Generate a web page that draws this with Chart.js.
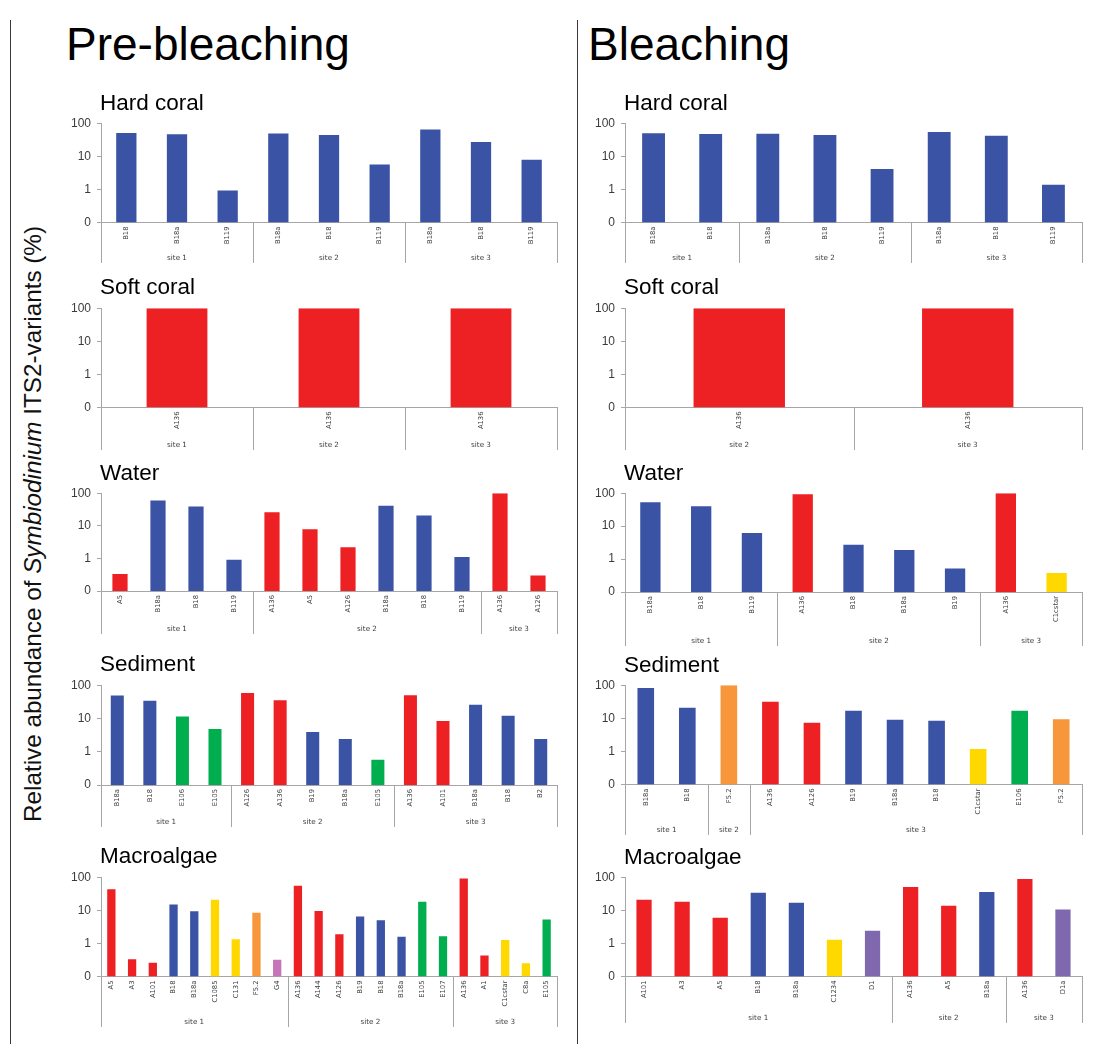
<!DOCTYPE html>
<html>
<head>
<meta charset="utf-8">
<script src="https://cdn.jsdelivr.net/npm/chart.js@4.4.1/dist/chart.umd.min.js"></script>
<style>
  html, body { margin: 0; padding: 0; background: #fff; }
  #page { position: relative; width: 1095px; height: 1044px; overflow: hidden; font-family: "Liberation Sans", Arial, sans-serif; }
  .panel { position: absolute; }
  .panel canvas { display: block; }
  .label { position: absolute; white-space: nowrap; color: #000; line-height: 1; }
  .rule { position: absolute; background: #3a3a3a; }
</style>
</head>
<body>
<div id="page"></div>
<script>
// ---- Axis ticks (log scale; the lowest tick 0.1 is printed as "0") ----
const Y_MIN = 0.1;
const Y_MAX = 100;
const yTickValues = [0.1, 1, 10, 100];
const yTickLabels = ['0', '1', '10', '100'];

const threeSites = ['site 1', 'site 2', 'site 3'];

// ---- Pre-bleaching ----
const preHardTypes = ['B18', 'B18a', 'B119', 'B18a', 'B18', 'B119', 'B18a', 'B18', 'B119'];
const preHardValues = [51, 46, 0.93, 49, 44, 5.7, 64, 27, 7.9];
const preHardSiteSizes = [3, 3, 3];

const preSoftTypes = ['A136', 'A136', 'A136'];
const preSoftValues = [100, 100, 100];
const preSoftSiteSizes = [1, 1, 1];

const preWaterTypes = ['A5', 'B18a', 'B18', 'B119', 'A136', 'A5', 'A126', 'B18a', 'B18', 'B119', 'A136', 'A126'];
const preWaterValues = [0.33, 60, 39, 0.91, 26, 7.8, 2.2, 41, 20.6, 1.1, 100, 0.30];
const preWaterSiteSizes = [4, 6, 2];

const preSedimentTypes = ['B18a', 'B18', 'E106', 'E105', 'A126', 'A136', 'B19', 'B18a', 'E105', 'A136', 'A101', 'B18a', 'B18', 'B2'];
const preSedimentValues = [49, 34, 11.5, 4.8, 58, 35, 3.9, 2.4, 0.57, 50, 8.4, 26, 12, 2.4];
const preSedimentSiteSizes = [4, 5, 5];

const preMacroTypes = ['A5', 'A3', 'A101', 'B18', 'B18a', 'C1085', 'C131', 'F5.2', 'G4',
  'A136', 'A144', 'A126', 'B19', 'B18', 'B18a', 'E105', 'E107',
  'A136', 'A1', 'C1cstar', 'C8a', 'E105'];
const preMacroValues = [43, 0.33, 0.26, 15, 9.3, 21, 1.34, 8.5, 0.32,
  55, 9.5, 1.9, 6.5, 5.0, 1.6, 18, 1.65,
  91, 0.43, 1.26, 0.25, 5.3];
const preMacroSiteSizes = [9, 8, 5];

// ---- Bleaching ----
const bleHardTypes = ['B18a', 'B18', 'B18a', 'B18', 'B119', 'B18a', 'B18', 'B119'];
const bleHardValues = [50, 47, 48, 44, 4.1, 54, 42, 1.37];
const bleHardSiteSizes = [2, 3, 3];

const bleSoftTypes = ['A136', 'A136'];
const bleSoftValues = [100, 100];
const bleSoftSites = ['site 2', 'site 3'];
const bleSoftSiteSizes = [1, 1];

const bleWaterTypes = ['B18a', 'B18', 'B119', 'A136', 'B18', 'B18a', 'B19', 'A136', 'C1cstar'];
const bleWaterValues = [53, 40, 6.2, 93, 2.7, 1.9, 0.52, 100, 0.38];
const bleWaterSiteSizes = [3, 4, 2];

const bleSedimentTypes = ['B18a', 'B18', 'F5.2', 'A136', 'A126', 'B19', 'B18a', 'B18', 'C1cstar', 'E106', 'F5.2'];
const bleSedimentValues = [82, 21, 100, 31.5, 7.3, 17, 9.1, 8.5, 1.18, 17, 9.3];
const bleSedimentSiteSizes = [2, 1, 8];

const bleMacroTypes = ['A101', 'A3', 'A5', 'B18', 'B18a', 'C1234', 'D1', 'A136', 'A5', 'B18a', 'A136', 'D1a'];
const bleMacroValues = [21, 18, 6.0, 34, 17, 1.3, 2.4, 51, 13.8, 35.5, 89, 10.5];
const bleMacroSiteSizes = [7, 3, 2];

// ---- Styling ----
// Bar colour follows the Symbiodinium clade (first letter of the ITS2 type).
const cladeColours = {
  A: '#ED2024', B: '#3A53A4', C: '#FFD800', D: '#7F68AE',
  E: '#00AE4F', F: '#F7963A', G: '#C676B8'
};
const AXIS_GREY = '#a6a6a6';
const TEXT_GREY = '#3c3c3c';

const columns = {
  pre: { axis: 101, right: 557, heading: 'Pre-bleaching', headingX: 66 },
  ble: { axis: 625, right: 1082, heading: 'Bleaching', headingX: 588 }
};

// top = pixel row of 100 %, zero = row of the baseline, bottom = foot of the site row
const panels = [
  { col: 'pre', name: 'Hard coral', types: preHardTypes, values: preHardValues, sites: threeSites, sizes: preHardSiteSizes, top: 120, zero: 222.5, bottom: 263 },
  { col: 'pre', name: 'Soft coral', types: preSoftTypes, values: preSoftValues, sites: threeSites, sizes: preSoftSiteSizes, top: 304.5, zero: 407.5, bottom: 450 },
  { col: 'pre', name: 'Water', types: preWaterTypes, values: preWaterValues, sites: threeSites, sizes: preWaterSiteSizes, top: 490, zero: 591, bottom: 634 },
  { col: 'pre', name: 'Sediment', types: preSedimentTypes, values: preSedimentValues, sites: threeSites, sizes: preSedimentSiteSizes, top: 681.5, zero: 784.5, bottom: 826.5 },
  { col: 'pre', name: 'Macroalgae', types: preMacroTypes, values: preMacroValues, sites: threeSites, sizes: preMacroSiteSizes, top: 873.5, zero: 976.5, bottom: 1027 },
  { col: 'ble', name: 'Hard coral', types: bleHardTypes, values: bleHardValues, sites: threeSites, sizes: bleHardSiteSizes, top: 120, zero: 222.5, bottom: 263 },
  { col: 'ble', name: 'Soft coral', types: bleSoftTypes, values: bleSoftValues, sites: bleSoftSites, sizes: bleSoftSiteSizes, top: 304.5, zero: 407.5, bottom: 450 },
  { col: 'ble', name: 'Water', types: bleWaterTypes, values: bleWaterValues, sites: threeSites, sizes: bleWaterSiteSizes, top: 490, zero: 592, bottom: 646 },
  { col: 'ble', name: 'Sediment', types: bleSedimentTypes, values: bleSedimentValues, sites: threeSites, sizes: bleSedimentSiteSizes, top: 682, zero: 784.5, bottom: 835 },
  { col: 'ble', name: 'Macroalgae', types: bleMacroTypes, values: bleMacroValues, sites: threeSites, sizes: bleMacroSiteSizes, top: 874, zero: 976.5, bottom: 1023 }
];

const page = document.getElementById('page');
const Y_AXIS_W = 50;
const PAD_TOP = 10;
const PAD_RIGHT = 10;
const PANEL_TITLE_SIZE = 22.5;
const ASCENT = 0.8465; // baseline offset of Liberation Sans with line-height 1

function addText(html, x, baseline, size, extra) {
  const d = document.createElement('div');
  d.className = 'label';
  d.style.fontSize = size + 'px';
  d.style.left = x + 'px';
  d.style.top = (baseline - ASCENT * size) + 'px';
  d.innerHTML = html;
  if (extra) Object.assign(d.style, extra);
  page.appendChild(d);
  return d;
}

function addRule(x, y1, y2) {
  const r = document.createElement('div');
  r.className = 'rule';
  r.style.left = x + 'px';
  r.style.top = y1 + 'px';
  r.style.width = '1px';
  r.style.height = (y2 - y1) + 'px';
  page.appendChild(r);
}

// Second level of the category axis: site separators and site names
const siteAxisPlugin = {
  id: 'siteAxis',
  afterDraw(chart, args, opts) {
    const { ctx, chartArea, scales: { x } } = chart;
    const y0 = chartArea.bottom;
    const y1 = x.bottom;
    ctx.save();
    ctx.strokeStyle = AXIS_GREY;
    ctx.lineWidth = 1;
    ctx.fillStyle = TEXT_GREY;
    ctx.font = '7.2px "DejaVu Sans", sans-serif';
    ctx.textAlign = 'center';
    ctx.textBaseline = 'middle';
    const edges = [x.getPixelForValue(-0.5)];
    let start = 0;
    opts.sizes.forEach((n, i) => {
      const a = x.getPixelForValue(start - 0.5);
      const b = x.getPixelForValue(start + n - 0.5);
      ctx.fillText(opts.sites[i], (a + b) / 2, y1 - 5);
      edges.push(b);
      start += n;
    });
    edges.forEach(px => {
      const X = Math.round(px) + 0.5;
      ctx.beginPath();
      ctx.moveTo(X, y0);
      ctx.lineTo(X, y1);
      ctx.stroke();
    });
    ctx.restore();
  }
};

function makePanel(p) {
  const col = columns[p.col];
  const w = Y_AXIS_W + (col.right - col.axis) + PAD_RIGHT;
  const h = PAD_TOP + (p.bottom - p.top);
  const xHeight = p.bottom - p.zero;

  const holder = document.createElement('div');
  holder.className = 'panel';
  holder.style.left = (col.axis - Y_AXIS_W) + 'px';
  holder.style.top = (p.top - PAD_TOP) + 'px';
  holder.style.width = w + 'px';
  holder.style.height = h + 'px';
  const cv = document.createElement('canvas');
  cv.width = w;
  cv.height = h;
  holder.appendChild(cv);
  page.appendChild(holder);

  addText(p.name, col.axis - 1, p.top - 9, PANEL_TITLE_SIZE);

  new Chart(cv, {
    type: 'bar',
    data: {
      labels: p.types,
      datasets: [{
        data: p.values,
        backgroundColor: p.types.map(t => cladeColours[t[0]]),
        borderWidth: 0,
        barPercentage: 0.4,
        categoryPercentage: 1
      }]
    },
    plugins: [siteAxisPlugin],
    options: {
      responsive: false,
      animation: false,
      events: [],
      layout: { padding: { top: PAD_TOP, right: PAD_RIGHT, left: 0, bottom: 0 } },
      plugins: {
        legend: { display: false },
        tooltip: { enabled: false },
        siteAxis: { sites: p.sites, sizes: p.sizes }
      },
      scales: {
        x: {
          type: 'category',
          offset: true,
          grid: { display: false, drawTicks: false },
          border: { display: true, color: AXIS_GREY, width: 1 },
          ticks: {
            autoSkip: false, maxRotation: 90, minRotation: 90, padding: 4,
            color: TEXT_GREY, font: { family: '"DejaVu Sans", sans-serif', size: 6.8 }
          },
          afterFit: s => { s.height = xHeight; }
        },
        y: {
          type: 'logarithmic',
          min: Y_MIN,
          max: Y_MAX,
          grid: { display: true, drawOnChartArea: false, drawTicks: true, tickLength: 4, color: AXIS_GREY },
          border: { display: true, color: AXIS_GREY, width: 1 },
          ticks: {
            padding: 6, color: TEXT_GREY,
            font: { family: '"Liberation Sans", Arial, sans-serif', size: 12 },
            callback: (v, i) => yTickLabels[i]
          },
          afterBuildTicks: s => { s.ticks = yTickValues.map(v => ({ value: v })); },
          afterFit: s => { s.width = Y_AXIS_W; }
        }
      }
    }
  });
}

// Frame rules
addRule(10, 20, 1044);
addRule(577, 20, 1044);

// Column headings
Object.values(columns).forEach(c => addText(c.heading, c.headingX, 60, 46));

// Shared y-axis title, rotated
const yTitle = addText('Relative abundance of <i>Symbiodinium</i> ITS2-variants (%)', 33, 524, 24, {
  fontFamily: '"Liberation Sans Narrow", "Liberation Sans", Arial, sans-serif',
  color: '#111',
  transformOrigin: '0 0'
});
yTitle.style.top = '524px';
const span = yTitle.getBoundingClientRect().width;
const k = 596 / span;
yTitle.style.transform = `rotate(-90deg) scaleX(${k}) translate(-50%, -50%)`;

panels.forEach(makePanel);
</script>
</body>
</html>
